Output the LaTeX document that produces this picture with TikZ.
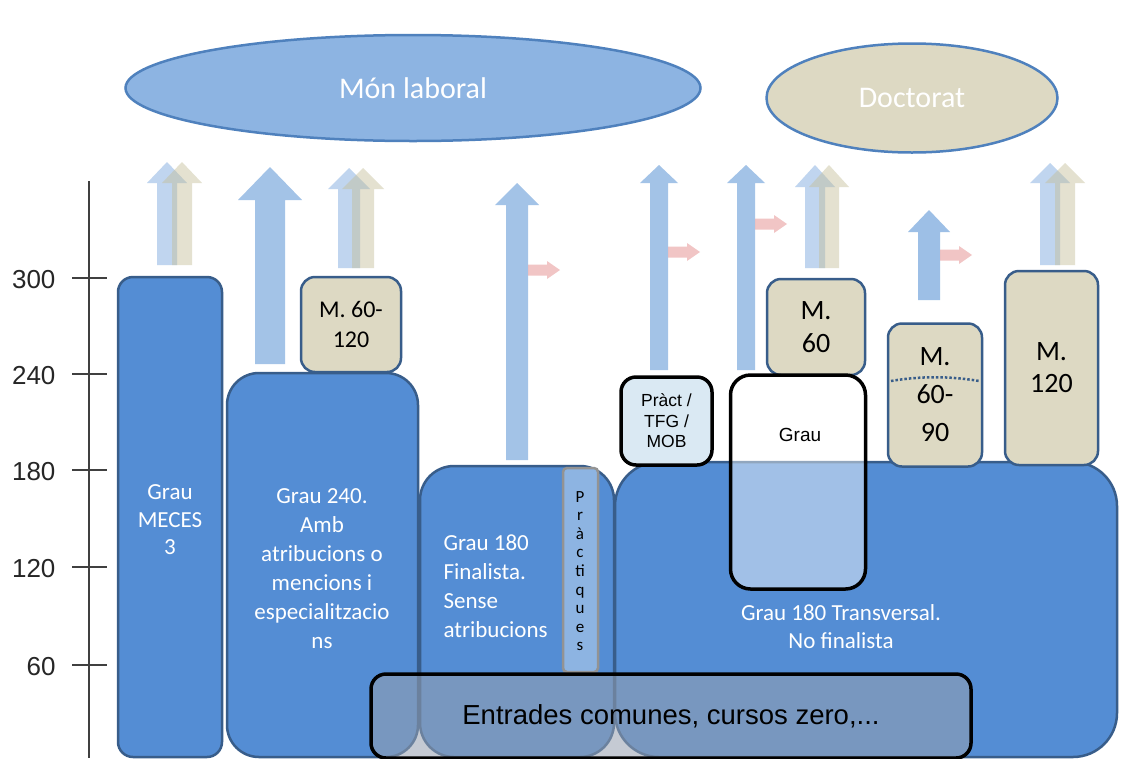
\documentclass[tikz,border=0pt]{standalone}
\usepackage{fontspec}
\setmainfont{Carlito}
\newfontfamily\arialfont{Liberation Sans}
\usepackage{tikz}
\usetikzlibrary{shapes.geometric}
\definecolor{gblue}{RGB}{84,141,212}
\definecolor{edgeblue}{RGB}{56,93,138}
\definecolor{lblue}{RGB}{141,180,226}
\definecolor{ellblue}{RGB}{79,129,189}
\definecolor{tanbox}{RGB}{221,217,195}
\definecolor{tanarr}{RGB}{196,189,151}
\definecolor{pinkarr}{RGB}{228,140,140}
\definecolor{practbox}{RGB}{218,233,243}
\definecolor{commonbox}{RGB}{150,160,175}

\begin{document}
\begin{tikzpicture}[x=1pt, y=-1pt,
	grau/.style={draw=edgeblue, line width=2.5pt, fill=gblue, rounded corners=#1},
	mbox/.style={draw=edgeblue, line width=2.5pt, fill=tanbox, rounded corners=14pt, align=center, inner sep=0pt},
	blacktext/.style={text=black, align=center},
	whitetext/.style={text=white, align=center},
	axis/.style={draw=black!75, line width=1.2pt}]
	\useasboundingbox[fill=white] (0,0) rectangle (1131,758);
	\node[ellipse, draw=ellblue, line width=2.5pt, fill=lblue, minimum width=575, minimum height=106, text=white, font=\fontsize{30}{34}\selectfont] (laboral) at (413,88) {Món laboral};
	\node[ellipse, draw=ellblue, line width=2.5pt, fill=tanbox, minimum width=291, minimum height=109, text=white, font=\fontsize{30}{34}\selectfont] (doctorat) at (912,98) {Doctorat};
	\foreach \cx/\yb/\yh/\yt/\w/\h/\col/\op in {167/265/183/162/10/20/lblue/.55, 182/265/183/162/10/20/tanarr/.45,
		349/268/189/168/11/21/lblue/.55, 363/268/189/168/11/21/tanarr/.45,
		815/268/187/165/10/20/lblue/.55, 829/268/187/165/10/20/tanarr/.45,
		1050/265/183/163/10/20/lblue/.55, 1065/265/183/163/10/20/tanarr/.45,
		270/364/200/167/15/32/lblue/.8, 517/460/205/183/11/22/lblue/.8,
		659/370/183/165/9/19/lblue/.8, 746/370/183/165/9/19/lblue/.8,
		929/300/232/210/11/21/lblue/.85} {
		\fill[\col, opacity=\op] (\cx-\w,\yb) -- (\cx-\w,\yh) -- (\cx-\h,\yh) -- (\cx,\yt) -- (\cx+\h,\yh) -- (\cx+\w,\yh) -- (\cx+\w,\yb) -- cycle;
	}
	\foreach \xa/\xb/\ym in {528/560/270, 668/700/252, 755/787/224, 940/972/255} {
		\fill[pinkarr, opacity=.5] (\xa,\ym-5.5) -- (\xb-13,\ym-5.5) -- (\xb-13,\ym-9) -- (\xb,\ym) -- (\xb-13,\ym+9) -- (\xb-13,\ym+5.5) -- (\xa,\ym+5.5) -- cycle;
	}
	\draw[grau=15pt] (118,277) rectangle (222,757);
	\draw[grau=32pt] (227,373) rectangle (418,757);
	\draw[grau=34pt] (420,466) rectangle (614,757);
	\draw[grau=44pt] (615,462) rectangle (1117,757);
	\draw[draw=gray!85, line width=2.5pt, fill=lblue, rounded corners=4pt] (563,468) rectangle (598,672);
	\node[whitetext, font=\fontsize{23}{27.5}\selectfont] (meces) at (170,520) {Grau\\MECES\\3};
	\node[whitetext, font=\fontsize{23}{29}\selectfont] (g240) at (322,569) {Grau 240.\\Amb\\atribucions o\\mencions i\\especialitzacio\\ns};
	\node[whitetext, align=left, anchor=west, font=\fontsize{23}{29}\selectfont] (g180f) at (440,586) {Grau 180\\Finalista.\\Sense\\atribucions};
	\node[whitetext, font=\fontsize{23}{28}\selectfont] (g180t) at (841,627) {Grau 180 Transversal.\\No finalista};
	\node[blacktext, font=\fontsize{17}{18.6}\selectfont] (practiques) at (580,571) {P\\r\\à\\c\\ti\\q\\u\\e\\s};
	\node[mbox, minimum width=100, minimum height=95, font=\fontsize{24}{30}\selectfont] (m60120) at (351,324.5) {M. 60-\\120};
	\node[mbox, minimum width=98, minimum height=96, font=\fontsize{28}{33}\selectfont] (m60) at (816,327) {M.\\60};
	\node[mbox, minimum width=94, minimum height=143, font=\fontsize{28}{38}\selectfont] (m6090) at (935,395) {M.\\60-\\90};
	\node[mbox, minimum width=93, minimum height=194, font=\fontsize{28}{32}\selectfont] (m120) at (1051.5,368) {M.\\120};
	\draw[edgeblue, line width=2.5pt, dotted] (891,381) .. controls (920,376) and (950,376) .. (979,381);
	\node[draw=black, line width=3.5pt, fill=practbox, rounded corners=15pt, minimum width=91, minimum height=88, blacktext, inner sep=0pt, font=\arialfont\fontsize{17.5}{20.5}\selectfont] (pract) at (666.5,421) {Pràct /\\TFG /\\MOB};
	\node[draw=black, line width=3.5pt, fill=white, fill opacity=.45, text opacity=1, rounded corners=20pt, minimum width=135, minimum height=214] (graubox) at (798,482) {};
	\node[blacktext, font=\arialfont\fontsize{19}{23}\selectfont] (graulabel) at (800,435) {Grau};
	\node[draw=black, line width=3.5pt, fill=commonbox, fill opacity=.55, text opacity=1, rounded corners=15pt, minimum width=600, minimum height=84, blacktext, font=\arialfont\fontsize{27.5}{30}\selectfont] (entrades) at (671,716) {\raisebox{-4pt}{Entrades comunes, cursos zero,...}};
	\draw[axis] (89,181) -- (89,758);
	\foreach \y/\v in {278/300, 374/240, 470/180, 567/120, 665/60} {
		\draw[axis] (72,\y) -- (107,\y);
		\node[anchor=east, text=black!85, font=\arialfont\fontsize{26}{30}\selectfont] (tick\v) at (59,\y+2) {\v};
	}
\end{tikzpicture}
\end{document}
